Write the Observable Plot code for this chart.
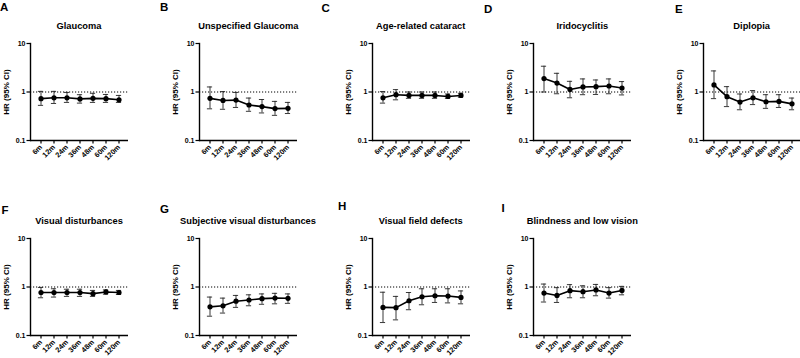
<!DOCTYPE html>
<html>
<head>
<meta charset="utf-8">
<script src="https://cdn.jsdelivr.net/npm/d3@7"></script>
<script src="https://cdn.jsdelivr.net/npm/@observablehq/plot@0.6"></script>
<style>
  html, body { margin: 0; padding: 0; background: #fff; overflow: hidden; }
  #chart { position: relative; width: 800px; height: 358px; overflow: hidden; background: #fff;
           font-family: "Liberation Sans", Arial, Helvetica, sans-serif; }
  .panel { position: absolute; }
  .title { position: absolute; font-weight: bold; font-size: 9.3px; white-space: nowrap;
           transform: translateX(-50%); color: #000; line-height: 1; }
  .letter { position: absolute; font-weight: bold; font-size: 11.5px; color: #000; line-height: 1; }
</style>
</head>
<body>
<div id="chart"></div>
<script>
// ---- data ----
const timepoints = ["6m", "12m", "24m", "36m", "48m", "60m", "120m"];
const yTicks = [0.1, 1, 10];

const glaucomaHR = [0.73, 0.76, 0.76, 0.72, 0.74, 0.73, 0.69];
const glaucomaLo = [0.53, 0.58, 0.61, 0.59, 0.61, 0.61, 0.61];
const glaucomaHi = [1.03, 1.03, 0.98, 0.88, 0.94, 0.89, 0.85];

const unspecGlaucomaHR = [0.74, 0.67, 0.68, 0.54, 0.50, 0.455, 0.46];
const unspecGlaucomaLo = [0.45, 0.44, 0.48, 0.40, 0.37, 0.33, 0.36];
const unspecGlaucomaHi = [1.27, 1.02, 0.98, 0.75, 0.70, 0.64, 0.61];

const cataractHR = [0.76, 0.88, 0.85, 0.85, 0.85, 0.81, 0.85];
const cataractLo = [0.59, 0.69, 0.74, 0.74, 0.74, 0.74, 0.78];
const cataractHi = [1.02, 1.12, 1.00, 1.00, 1.00, 0.91, 0.94];

const iridocyclitisHR = [1.89, 1.53, 1.13, 1.27, 1.29, 1.33, 1.21];
const iridocyclitisLo = [1.00, 0.92, 0.76, 0.88, 0.89, 0.92, 0.87];
const iridocyclitisHi = [3.40, 2.43, 1.66, 1.86, 1.77, 1.86, 1.64];

const diplopiaHR = [1.40, 0.80, 0.62, 0.76, 0.63, 0.64, 0.57];
const diplopiaLo = [0.73, 0.50, 0.43, 0.55, 0.46, 0.48, 0.43];
const diplopiaHi = [2.72, 1.29, 0.91, 1.07, 0.88, 0.88, 0.75];

const visualDistHR = [0.77, 0.77, 0.77, 0.77, 0.73, 0.79, 0.77];
const visualDistLo = [0.60, 0.62, 0.64, 0.64, 0.64, 0.71, 0.70];
const visualDistHi = [0.98, 0.92, 0.90, 0.90, 0.85, 0.87, 0.85];

const subjVisualHR = [0.39, 0.41, 0.51, 0.54, 0.575, 0.59, 0.585];
const subjVisualLo = [0.25, 0.29, 0.38, 0.41, 0.44, 0.45, 0.46];
const subjVisualHi = [0.62, 0.59, 0.67, 0.69, 0.72, 0.74, 0.72];

const fieldDefectsHR = [0.38, 0.375, 0.52, 0.63, 0.66, 0.65, 0.61];
const fieldDefectsLo = [0.185, 0.21, 0.34, 0.43, 0.48, 0.47, 0.45];
const fieldDefectsHi = [0.78, 0.64, 0.77, 0.92, 0.92, 0.92, 0.83];

const blindnessHR = [0.75, 0.67, 0.84, 0.80, 0.87, 0.75, 0.85];
const blindnessLo = [0.49, 0.48, 0.60, 0.60, 0.66, 0.59, 0.69];
const blindnessHi = [1.15, 0.97, 1.12, 1.06, 1.13, 0.97, 1.03];

// ---- layout (panel placement) ----
const panels = [
  {letter: "A", title: "Glaucoma", hr: glaucomaHR, lo: glaucomaLo, hi: glaucomaHi, ax: 30, top: 42.7, lx: 0, ly: 2},
  {letter: "B", title: "Unspecified Glaucoma", hr: unspecGlaucomaHR, lo: unspecGlaucomaLo, hi: unspecGlaucomaHi, ax: 199.3, top: 42.7, lx: 160, ly: 2},
  {letter: "C", title: "Age-related cataract", hr: cataractHR, lo: cataractLo, hi: cataractHi, ax: 371.7, top: 42.7, lx: 321.5, ly: 2.5},
  {letter: "D", title: "Iridocyclitis", hr: iridocyclitisHR, lo: iridocyclitisLo, hi: iridocyclitisHi, ax: 533.3, top: 42.7, lx: 484, ly: 3.5},
  {letter: "E", title: "Diplopia", hr: diplopiaHR, lo: diplopiaLo, hi: diplopiaHi, ax: 702.7, top: 42.7, lx: 675, ly: 3.5},
  {letter: "F", title: "Visual disturbances", hr: visualDistHR, lo: visualDistLo, hi: visualDistHi, ax: 30, top: 237.7, lx: 1.5, ly: 205},
  {letter: "G", title: "Subjective visual disturbances", hr: subjVisualHR, lo: subjVisualLo, hi: subjVisualHi, ax: 199, top: 237.7, lx: 160, ly: 204},
  {letter: "H", title: "Visual field defects", hr: fieldDefectsHR, lo: fieldDefectsLo, hi: fieldDefectsHi, ax: 371.7, top: 237.7, lx: 338, ly: 200.5},
  {letter: "I", title: "Blindness and low vision", hr: blindnessHR, lo: blindnessLo, hi: blindnessHi, ax: 533.3, top: 237.7, lx: 501.5, ly: 202.5}
];

const ML = 32, MR = 6, MT = 4, MB = 34, PW = 98, PH = 97;
const chart = document.getElementById("chart");
const font = '"Liberation Sans", Arial, Helvetica, sans-serif';

for (const p of panels) {
  const rows = timepoints.map((t, i) => ({t, hr: p.hr[i], lo: p.lo[i], hi: p.hi[i]}));
  const plot = Plot.plot({
    width: ML + PW + MR,
    height: MT + PH + MB,
    marginLeft: ML, marginRight: MR, marginTop: MT, marginBottom: MB,
    style: {fontFamily: font, fontWeight: "bold", fontSize: "7px", color: "#000", background: "transparent", overflow: "visible"},
    x: {type: "band", domain: timepoints, paddingInner: 0, paddingOuter: 0.2},
    y: {type: "log", domain: [0.1, 10]},
    marks: [
      Plot.ruleY([1], {stroke: "#000", strokeWidth: 1, strokeDasharray: "1.2,1.8"}),
      Plot.ruleX(rows, {x: "t", y1: "lo", y2: "hi", stroke: "#222", strokeWidth: 0.9}),
      Plot.tickY(rows, {x: "t", y: "lo", stroke: "#222", strokeWidth: 0.9, insetLeft: 3.9, insetRight: 3.9}),
      Plot.tickY(rows, {x: "t", y: "hi", stroke: "#222", strokeWidth: 0.9, insetLeft: 3.9, insetRight: 3.9}),
      Plot.line(rows, {x: "t", y: "hr", stroke: "#000", strokeWidth: 1.6}),
      Plot.dot(rows, {x: "t", y: "hr", r: 2.6, fill: "#000", stroke: "none"}),
      Plot.frame({anchor: "left", stroke: "#000", strokeWidth: 1.4}),
      Plot.ruleY([0.1], {stroke: "#000", strokeWidth: 1.4}),
      Plot.axisY({ticks: yTicks, tickFormat: d => String(d), tickSize: 3.5, tickPadding: 1.5,
                  label: null, fontSize: 7, strokeWidth: 1.2}),
      Plot.axisY({ticks: [], label: "HR (95% CI)", labelAnchor: "center", labelArrow: "none", labelOffset: 27,
                  fontSize: 8}),
      Plot.axisX({tickSize: 3.5, tickRotate: -45, tickPadding: 2, label: null, fontSize: 7.3, strokeWidth: 1.2})
    ]
  });
  plot.classList.add("panel");
  plot.style.left = (p.ax - ML) + "px";
  plot.style.top = (p.top - MT) + "px";
  chart.appendChild(plot);

  const title = document.createElement("div");
  title.className = "title";
  title.textContent = p.title;
  title.style.left = (p.ax + PW / 2) + "px";
  title.style.top = (p.top - 20.5) + "px";
  chart.appendChild(title);

  const letter = document.createElement("div");
  letter.className = "letter";
  letter.textContent = p.letter;
  letter.style.left = p.lx + "px";
  letter.style.top = p.ly + "px";
  chart.appendChild(letter);
}
</script>
</body>
</html>
